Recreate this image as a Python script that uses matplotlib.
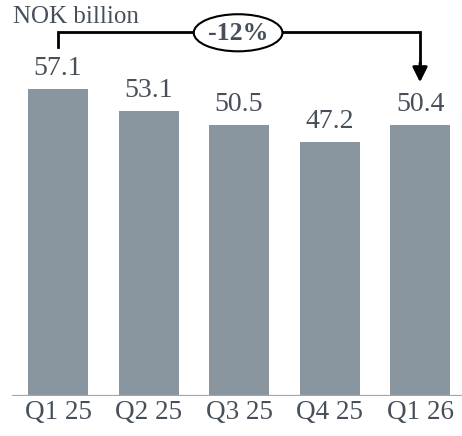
import matplotlib
matplotlib.use("Agg")
import matplotlib.pyplot as plt
from matplotlib.patches import Ellipse

# data
quarters = ["Q1 25", "Q2 25", "Q3 25", "Q4 25", "Q1 26"]
values = [57.1, 53.1, 50.5, 47.2, 50.4]
change_label = "-12%"
unit_label = "NOK billion"

bar_color = "#8a969f"
text_color = "#47505a"

plt.rcParams["font.family"] = ["Liberation Serif", "DejaVu Serif"]

fig = plt.figure(figsize=(4.62, 4.36), dpi=100)
ax = fig.add_axes([0, 40 / 436, 1, 396 / 436])

x = list(range(len(quarters)))
ax.bar(x, values, width=0.663, color=bar_color, zorder=2)

ax.set_xlim(-0.641, 4.464)
ax.set_ylim(0, 73.7)

# baseline
ax.axhline(0, xmin=13 / 462, xmax=1, color="#a5a5a5", lw=1.6, zorder=3)

# value labels
for xi, v in zip(x, values):
    ax.text(xi, v + 1.5, f"{v:.1f}", ha="center", va="bottom",
            fontsize=20, color=text_color)

ax.set_xticks(x)
ax.set_xticklabels(quarters, fontsize=19.5, color=text_color)
ax.tick_params(axis="x", length=0, pad=3)
ax.set_yticks([])
for s in ax.spines.values():
    s.set_visible(False)

# unit label
fig.text(13 / 462, 1 - 17 / 436, unit_label, ha="left", va="center",
         fontsize=18, color=text_color)

# bracket from first to last bar
y_top = 67.8
ax.plot([x[0], x[0], x[-1], x[-1]], [65.0, y_top, y_top, 61.5], color="black",
        lw=2, solid_joinstyle="miter", zorder=4)
ax.annotate("", xy=(x[-1], 58.4), xytext=(x[-1], 62.0),
            arrowprops=dict(arrowstyle="-|>,head_length=0.9,head_width=0.45",
                            color="black", lw=2, shrinkA=0, shrinkB=0),
            zorder=4)

mid = (x[0] + x[-1]) / 2 - 0.01
ax.add_patch(Ellipse((mid, 67.6), 0.98, 6.9, facecolor="white",
                     edgecolor="black", lw=1.5, zorder=5))
ax.text(mid, 67.4, change_label, ha="center", va="center", fontsize=18.5,
        fontweight="bold", color=text_color, zorder=6)

fig.savefig("out.png", dpi=100)
